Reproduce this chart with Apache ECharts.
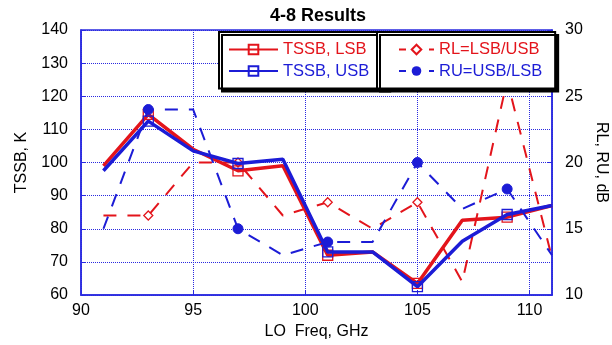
<!DOCTYPE html>
<html>
<head>
<meta charset="utf-8">
<script src="https://cdn.jsdelivr.net/npm/echarts@6/dist/echarts.min.js"></script>
<style>html,body{margin:0;padding:0;background:#fff}#c{width:612px;height:345px}</style>
</head>
<body>
<div id="c"></div>
<script>
// ---- data ----
var freq = [91, 93, 95, 97, 99, 101, 103, 105, 107, 109, 111];
var tssbLsb = [99, 114.5, 104, 97.5, 99, 72, 73, 63.5, 82.6, 83.5, 87];
var tssbUsb = [97.5, 112.5, 103.5, 99.7, 101, 73, 73, 62.5, 76.2, 84.3, 87];
var rlVals = [16, 16, 20, 20, 16, 17, 15, 17, 11, 26.2, 12.8];
var ruVals = [15, 24, 24, 15, 13, 14, 14, 20, 16.5, 18, 13];
var xTicks = [90, 95, 100, 105, 110];
var leftTicks = [60, 70, 80, 90, 100, 110, 120, 130, 140];
var rightTicks = [10, 15, 20, 25, 30];

var RED = '#e3141b', BLUE = '#1c1cd6', GRID = '#2a2ae0';
var FONT = 'Liberation Sans, Arial, sans-serif';

// markers are drawn on every second point
function pairs(v) {
  return freq.map(function (f, i) {
    var d = {value: [f, v[i]]};
    if (i % 2 === 0) d.symbol = 'none';
    return d;
  });
}

var chart = echarts.init(document.getElementById('c'), null, {renderer: 'canvas'});
chart.setOption({
  animation: false,
  backgroundColor: '#fff',
  title: {
    text: '4-8 Results', left: 313, top: 2, textAlign: 'center',
    textStyle: {fontFamily: FONT, fontSize: 18, fontWeight: 'bold', color: '#000'}
  },
  grid: {left: 81, right: 60, top: 30, bottom: 50, outerBoundsMode: 'none', containLabel: false,
         show: true, borderColor: GRID, borderWidth: 1.5, backgroundColor: 'transparent'},
  xAxis: {
    type: 'value', min: xTicks[0], max: 111, interval: 5,
    name: 'LO  Freq, GHz', nameLocation: 'middle', nameGap: 29,
    nameTextStyle: {fontFamily: FONT, fontSize: 16, color: '#000'},
    axisLine: {show: true, lineStyle: {color: GRID, width: 1.5}},
    axisTick: {show: true, inside: true, length: 5, lineStyle: {color: GRID}},
    axisLabel: {showMaxLabel: false, fontFamily: FONT, fontSize: 16, color: '#000', margin: 8},
    splitLine: {show: true, lineStyle: {color: GRID, type: 'dotted', width: 1}}
  },
  yAxis: [{
    type: 'value', min: leftTicks[0], max: leftTicks[leftTicks.length - 1], interval: 10,
    name: 'TSSB, K', nameLocation: 'middle', nameGap: 51, nameRotate: 90,
    nameTextStyle: {fontFamily: FONT, fontSize: 16, color: '#000'},
    axisLine: {show: true, lineStyle: {color: GRID, width: 1.5}},
    axisTick: {show: true, inside: true, length: 5, lineStyle: {color: GRID}},
    axisLabel: {fontFamily: FONT, fontSize: 16, color: '#000', margin: 13},
    splitLine: {show: true, lineStyle: {color: GRID, type: 'dotted', width: 1}}
  }, {
    type: 'value', min: rightTicks[0], max: rightTicks[rightTicks.length - 1], interval: 5, position: 'right',
    name: 'RL, RU, dB', nameLocation: 'middle', nameGap: 38, nameRotate: -90,
    nameTextStyle: {fontFamily: FONT, fontSize: 16, color: '#000'},
    axisLine: {show: true, lineStyle: {color: GRID, width: 1.5}},
    axisTick: {show: true, inside: true, length: 5, lineStyle: {color: GRID}},
    axisLabel: {fontFamily: FONT, fontSize: 16, color: '#000', margin: 13},
    splitLine: {show: false}
  }],
  legend: [{
    orient: 'vertical', left: 219, top: 32, z: 20,
    padding: [9, 18, 9, 9], itemGap: 4.5, itemWidth: 49, itemHeight: 12,
    backgroundColor: '#fff', borderColor: '#000', borderWidth: 2,
    shadowColor: '#000', shadowBlur: 0, shadowOffsetX: 3, shadowOffsetY: 3,
    textStyle: {fontFamily: FONT, fontSize: 16.5},
    data: [{name: 'TSSB, LSB', textStyle: {color: RED}}, {name: 'TSSB, USB', textStyle: {color: BLUE}}]
  }, {
    orient: 'vertical', left: 377, top: 32, z: 20,
    padding: [9, 13, 9, 21], itemGap: 4.5, itemWidth: 35, itemHeight: 12,
    backgroundColor: '#fff', borderColor: '#000', borderWidth: 2,
    shadowColor: '#000', shadowBlur: 0, shadowOffsetX: 3, shadowOffsetY: 3,
    textStyle: {fontFamily: FONT, fontSize: 16.5},
    data: [{name: 'RL=LSB/USB', textStyle: {color: RED}, lineStyle: {type: [7, 8]}},
           {name: 'RU=USB/LSB', textStyle: {color: BLUE}, lineStyle: {type: [7, 8]}}]
  }],
  series: [{
    name: 'RL=LSB/USB', type: 'line', yAxisIndex: 1, data: pairs(rlVals),
    symbol: 'diamond', symbolSize: 9, showAllSymbol: true,
    lineStyle: {color: RED, width: 2, type: [13, 11]},
    itemStyle: {color: '#fff', borderColor: RED, borderWidth: 1.3}, z: 2
  }, {
    name: 'RU=USB/LSB', type: 'line', yAxisIndex: 1, data: pairs(ruVals),
    symbol: 'circle', symbolSize: 10, showAllSymbol: true,
    lineStyle: {color: BLUE, width: 2, type: [13, 11]},
    itemStyle: {color: BLUE, borderColor: BLUE}, z: 5
  }, {
    name: 'TSSB, LSB', type: 'line', yAxisIndex: 0, data: pairs(tssbLsb),
    symbol: 'rect', symbolSize: 10, showAllSymbol: true,
    lineStyle: {color: RED, width: 3.5},
    itemStyle: {color: 'transparent', borderColor: RED, borderWidth: 1.3}, z: 3
  }, {
    name: 'TSSB, USB', type: 'line', yAxisIndex: 0, data: pairs(tssbUsb),
    symbol: 'rect', symbolSize: 10, showAllSymbol: true,
    lineStyle: {color: BLUE, width: 3.5},
    itemStyle: {color: 'transparent', borderColor: BLUE, borderWidth: 1.3}, z: 4
  }]
});
</script>
</body>
</html>
